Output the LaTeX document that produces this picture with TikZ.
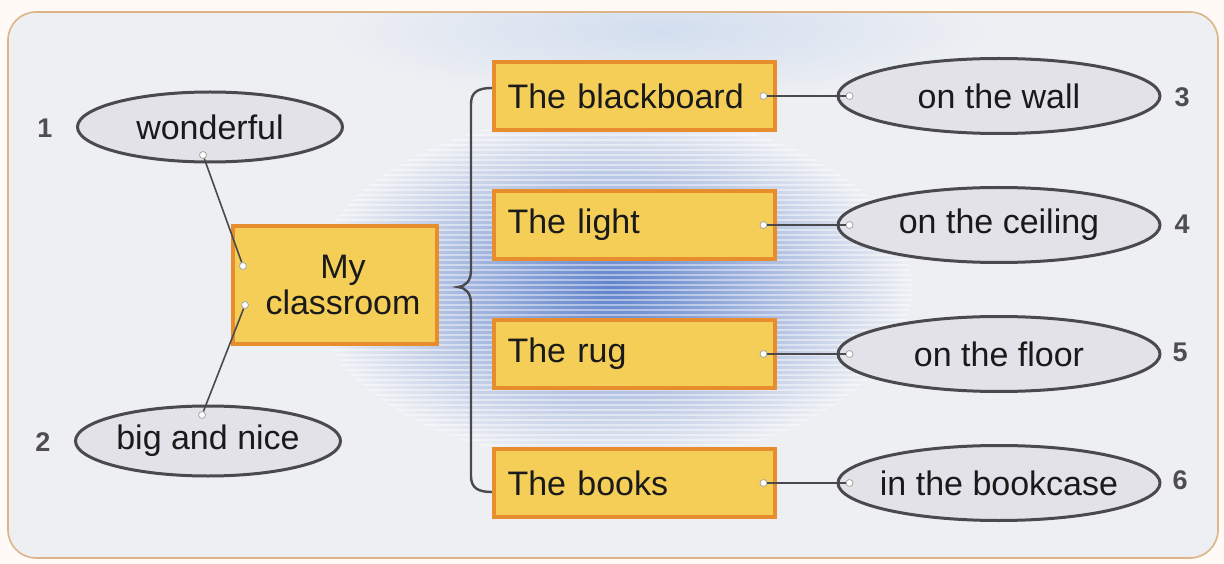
\documentclass[tikz,border=0pt]{standalone}
\usepackage{fontspec}
\setmainfont{Liberation Sans}
\usetikzlibrary{shapes.geometric}
\definecolor{bg}{HTML}{EDEFF3}
\definecolor{frame}{HTML}{DDB488}
\definecolor{glow}{HTML}{5F82CC}
\definecolor{glowtop}{HTML}{D2DEEF}
\definecolor{boxfill}{HTML}{F5CE58}
\definecolor{boxline}{HTML}{E88D2E}
\definecolor{ellfill}{HTML}{E3E2E9}
\definecolor{ellline}{HTML}{4A4A4E}
\definecolor{ink}{HTML}{1A1A1A}
\definecolor{numc}{HTML}{4E4E52}
\newcommand{\zw}[1]{\makebox[0pt]{#1}}
\tikzset{
  bigfont/.style={font=\fontsize{34}{36}\selectfont, text=ink},
  oval/.style={ellipse, draw=ellline, line width=3pt, fill=ellfill, inner sep=0pt, bigfont},
  ovalL/.style={oval, minimum width=265pt, minimum height=70pt},
  ovalR/.style={oval, minimum width=322pt, minimum height=75pt},
  itembox/.style={rectangle, draw=boxline, line width=4pt, fill=boxfill, minimum width=281pt,
    minimum height=68pt, text width=253pt, align=left, inner xsep=14pt, inner ysep=0pt, bigfont},
  numlabel/.style={font=\fontsize{27}{28}\selectfont\bfseries, text=numc},
  conn/.style={draw=ellline, line width=1.6pt},
  dot/.style={circle, draw=gray!70, fill=white, line width=0.8pt, inner sep=0pt, minimum size=7pt},
}
\begin{document}
\begin{tikzpicture}[x=1pt,y=-1pt]
\useasboundingbox (0,0) rectangle (1224,564);
\fill[white!96!orange] (0,0) rectangle (1224,564);
\fill[bg] [rounded corners=28pt] (8,12) rectangle (1218,558);
\begin{scope}
  \clip[rounded corners=28pt] (8,12) rectangle (1218,558);
  \shade[inner color=glowtop, outer color=bg] (660,30) ellipse [x radius=330, y radius=70];
  \shade[inner color=glow, outer color=bg] (612,288) ellipse [x radius=300, y radius=175];
  \begin{scope}
    \clip (612,288) ellipse [x radius=300, y radius=175];
    \foreach \yy in {100,105,...,480} \draw[white, opacity=0.45, line width=1.5pt] (300,\yy) -- (920,\yy);
  \end{scope}
\end{scope}
\draw[frame, line width=1.6pt, rounded corners=28pt] (8,12) rectangle (1218,558);

% left side
\node[ovalL] (w) at (210,127) {\zw{wonderful}};
\node[ovalL] (b) at (208,441) {\zw{big and nice}};
\node[numlabel] (n1) at (45,128) {1};
\node[numlabel] (n2) at (43,442) {2};
\node[itembox, minimum width=204pt, minimum height=117pt, text width=176pt, align=center] (c) at (335,285)
  {\fontsize{34}{36}\selectfont\hspace*{16pt}My\\\hspace*{16pt}classroom};

\node[dot] (w1) at ([shift={(-7pt,-28pt)}]w.center) {};
\node[dot] (c1) at ([shift={(-92pt,19pt)}]c.center) {};
\node[dot] (c2) at ([shift={(-90pt,-20pt)}]c.center) {};
\node[dot] (b1) at ([shift={(-6pt,26pt)}]b.center) {};
\draw[conn] (w1) -- (c1);
\draw[conn] (c2) -- (b1);

% brace
\coordinate (bt) at (492,88);
\coordinate (bm) at (458,287);
\coordinate (bb) at (492,492);
\draw[ellline, line width=2.4pt, line cap=round]
  (bt) .. controls (478,88) and (471,92) .. (471,104) -- (471,270)
  .. controls (471,281) and (466,286) .. (bm)
  .. controls (466,288) and (471,293) .. (471,304) -- (471,476)
  .. controls (471,488) and (478,492) .. (bb);

% right side
\foreach \nm/\txt/\yy in {x1/The blackboard/96, x2/The light/225, x3/The rug/354, x4/The books/483}
  \node[itembox] (\nm) at (634,\yy) {\txt};
\node[ovalR] (e1) at (999,96) {\zw{on the wall}};
\node[ovalR] (e2) at (999,225) {\zw{on the ceiling}};
\node[ovalR] (e3) at (999,354) {\zw{on the floor}};
\node[ovalR] (e4) at (999,483) {\zw{in the bookcase}};
\node[numlabel] (n3) at (1182,97) {3};
\node[numlabel] (n4) at (1182,224) {4};
\node[numlabel] (n5) at (1180,352) {5};
\node[numlabel] (n6) at (1180,480) {6};

\foreach \i in {1,2,3,4} {
  \node[dot] (s\i) at ([xshift=-13pt]x\i.east) {};
  \node[dot] (t\i) at ([xshift=13pt]e\i.west) {};
  \draw[conn] (s\i) -- (t\i);
}
\end{tikzpicture}
\end{document}
